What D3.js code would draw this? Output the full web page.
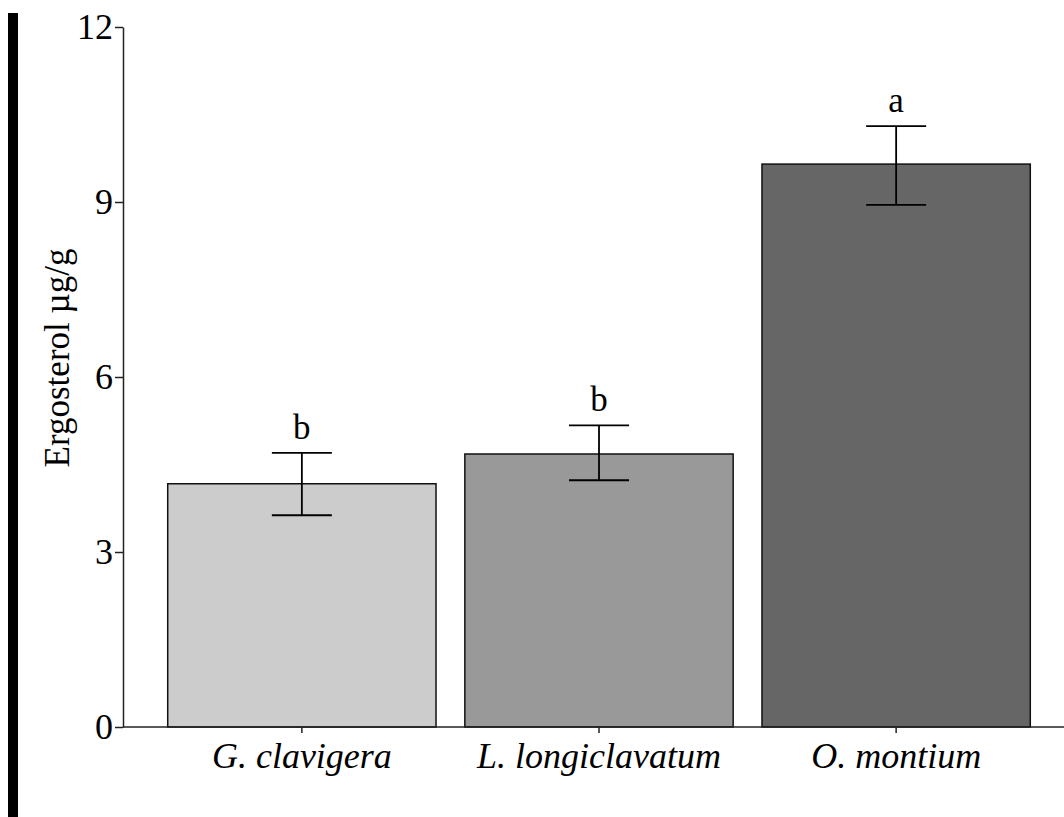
<!DOCTYPE html>
<html>
<head>
<meta charset="utf-8">
<script src="https://cdn.jsdelivr.net/npm/d3@7/dist/d3.min.js"></script>
<style>
  body { margin: 0; background: #fff; }
  svg { display: block; }
</style>
</head>
<body>
<div id="chart"></div>
<script>
const species = ['G. clavigera', 'L. longiclavatum', 'O. montium'];
const means = [4.17, 4.68, 9.65];
const errLow = [3.63, 4.23, 8.95];
const errHigh = [4.70, 5.17, 10.30];
const letters = ['b', 'b', 'a'];
const fills = ['#cccccc', '#999999', '#666666'];
const yTicks = [0, 3, 6, 9, 12];

const width = 1064, height = 817;
const margin = { left: 123, top: 27, right: 0, bottom: 90 };
const serif = 'Liberation Serif, Times New Roman, serif';

const svg = d3.select('#chart').append('svg')
  .attr('width', width)
  .attr('height', height);

// thick black bar on the far left
svg.append('rect')
  .attr('x', 8).attr('y', 13)
  .attr('width', 10).attr('height', height - 13)
  .attr('fill', '#000');

const x = d3.scaleBand()
  .domain(species)
  .range([138, 1060])
  .paddingInner(0.097)
  .paddingOuter(0.1);

const y = d3.scaleLinear()
  .domain([0, 12])
  .range([727, 27]);

// bars
svg.selectAll('rect.bar')
  .data(species)
  .join('rect')
  .attr('class', 'bar')
  .attr('x', d => x(d))
  .attr('y', (d, i) => y(means[i]))
  .attr('width', x.bandwidth())
  .attr('height', (d, i) => y(0) - y(means[i]))
  .attr('fill', (d, i) => fills[i])
  .attr('stroke', '#111')
  .attr('stroke-width', 1.5);

// error bars
const cap = 30;
species.forEach((d, i) => {
  const cx = x(d) + x.bandwidth() / 2;
  const g = svg.append('g').attr('stroke', '#000').attr('stroke-width', 1.8);
  g.append('line').attr('x1', cx).attr('x2', cx).attr('y1', y(errLow[i])).attr('y2', y(errHigh[i]));
  g.append('line').attr('x1', cx - cap).attr('x2', cx + cap).attr('y1', y(errLow[i])).attr('y2', y(errLow[i]));
  g.append('line').attr('x1', cx - cap).attr('x2', cx + cap).attr('y1', y(errHigh[i])).attr('y2', y(errHigh[i]));
  svg.append('text')
    .attr('x', cx)
    .attr('y', y(errHigh[i]) - 14)
    .attr('text-anchor', 'middle')
    .attr('font-family', serif)
    .attr('font-size', 35)
    .text(letters[i]);
});

// y axis
const yAxis = svg.append('g')
  .attr('transform', `translate(${margin.left},0)`)
  .call(d3.axisLeft(y).tickValues(yTicks).tickSize(8).tickPadding(2).tickSizeOuter(0));
yAxis.select('.domain').attr('stroke', '#222').attr('stroke-width', 1.5);
yAxis.selectAll('.tick line').attr('stroke', '#222').attr('stroke-width', 1.5);
yAxis.selectAll('.tick text')
  .attr('font-family', serif)
  .attr('font-size', 36)
  .attr('fill', '#000')
  .attr('dy', '0.33em');

// x axis
const xAxis = svg.append('g')
  .attr('transform', `translate(0,${y(0)})`)
  .call(d3.axisBottom(x).tickSize(6).tickPadding(8).tickSizeOuter(0));
xAxis.select('.domain').attr('d', `M${margin.left},0H${width}`).attr('stroke', '#222').attr('stroke-width', 1.5);
xAxis.selectAll('.tick line').attr('stroke', '#222').attr('stroke-width', 1.5);
xAxis.selectAll('.tick text')
  .attr('font-family', serif)
  .attr('font-style', 'italic')
  .attr('font-size', 36)
  .attr('fill', '#000')
  .attr('dy', null)
  .attr('y', 41);

// y label
svg.append('text')
  .attr('transform', `translate(69,358) rotate(-90)`)
  .attr('text-anchor', 'middle')
  .attr('font-family', serif)
  .attr('font-size', 35)
  .text('Ergosterol µg/g');
</script>
</body>
</html>
